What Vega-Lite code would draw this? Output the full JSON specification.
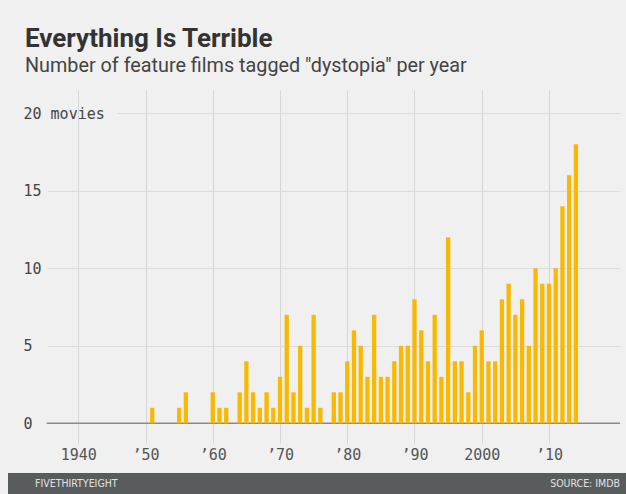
{
  "$schema": "https://vega.github.io/schema/vega-lite/v6.json",
  "background": "#f0f0f0",
  "padding": {"left": 8, "top": 26, "right": 0, "bottom": 0},
  "title": {
    "text": "Everything Is Terrible",
    "subtitle": "Number of feature films tagged \"dystopia\" per year",
    "anchor": "start",
    "dx": 17,
    "offset": 14,
    "font": "Roboto",
    "fontSize": 26,
    "fontWeight": "bold",
    "color": "#333333",
    "subtitleFont": "Roboto",
    "subtitleFontSize": 19.8,
    "subtitleColor": "#444444",
    "subtitlePadding": 4
  },
  "bounds": "flush",
  "spacing": 30,
  "config": {"view": {"stroke": null}},
  "vconcat": [
    {
      "width": 612,
      "height": 353,
      "layer": [
        {
          "data": {"values": [{}]},
          "mark": {"type": "rule", "color": "#8a8a8a", "strokeWidth": 1.5},
          "encoding": {
            "y": {"datum": 0, "type": "quantitative"},
            "x": {"datum": 1935.3, "type": "quantitative"},
            "x2": {"datum": 2020.56}
          }
        },
        {
          "data": {
            "values": [
              {"year": 1940, "films": 0}, {"year": 1941, "films": 0}, {"year": 1942, "films": 0},
              {"year": 1943, "films": 0}, {"year": 1944, "films": 0}, {"year": 1945, "films": 0},
              {"year": 1946, "films": 0}, {"year": 1947, "films": 0}, {"year": 1948, "films": 0},
              {"year": 1949, "films": 0}, {"year": 1950, "films": 0}, {"year": 1951, "films": 1},
              {"year": 1952, "films": 0}, {"year": 1953, "films": 0}, {"year": 1954, "films": 0},
              {"year": 1955, "films": 1}, {"year": 1956, "films": 2}, {"year": 1957, "films": 0},
              {"year": 1958, "films": 0}, {"year": 1959, "films": 0}, {"year": 1960, "films": 2},
              {"year": 1961, "films": 1}, {"year": 1962, "films": 1}, {"year": 1963, "films": 0},
              {"year": 1964, "films": 2}, {"year": 1965, "films": 4}, {"year": 1966, "films": 2},
              {"year": 1967, "films": 1}, {"year": 1968, "films": 2}, {"year": 1969, "films": 1},
              {"year": 1970, "films": 3}, {"year": 1971, "films": 7}, {"year": 1972, "films": 2},
              {"year": 1973, "films": 5}, {"year": 1974, "films": 1}, {"year": 1975, "films": 7},
              {"year": 1976, "films": 1}, {"year": 1977, "films": 0}, {"year": 1978, "films": 2},
              {"year": 1979, "films": 2}, {"year": 1980, "films": 4}, {"year": 1981, "films": 6},
              {"year": 1982, "films": 5}, {"year": 1983, "films": 3}, {"year": 1984, "films": 7},
              {"year": 1985, "films": 3}, {"year": 1986, "films": 3}, {"year": 1987, "films": 4},
              {"year": 1988, "films": 5}, {"year": 1989, "films": 5}, {"year": 1990, "films": 8},
              {"year": 1991, "films": 6}, {"year": 1992, "films": 4}, {"year": 1993, "films": 7},
              {"year": 1994, "films": 3}, {"year": 1995, "films": 12}, {"year": 1996, "films": 4},
              {"year": 1997, "films": 4}, {"year": 1998, "films": 2}, {"year": 1999, "films": 5},
              {"year": 2000, "films": 6}, {"year": 2001, "films": 4}, {"year": 2002, "films": 4},
              {"year": 2003, "films": 8}, {"year": 2004, "films": 9}, {"year": 2005, "films": 7},
              {"year": 2006, "films": 8}, {"year": 2007, "films": 5}, {"year": 2008, "films": 10},
              {"year": 2009, "films": 9}, {"year": 2010, "films": 9}, {"year": 2011, "films": 10},
              {"year": 2012, "films": 14}, {"year": 2013, "films": 16}, {"year": 2014, "films": 18}
            ]
          },
          "mark": {"type": "bar", "width": 4.3, "color": "#f9b900"},
          "encoding": {
            "x": {
              "field": "year",
              "type": "quantitative",
              "scale": {"domain": [1929.55, 2020.56], "nice": false, "zero": false, "padding": 0},
              "axis": {
                "title": null,
                "values": [1940, 1950, 1960, 1970, 1980, 1990, 2000, 2010],
                "labelExpr": "datum.value == 1940 || datum.value == 2000 ? '' + datum.value : '\u2019' + substring(toString(datum.value), 2)",
                "grid": true,
                "gridColor": "#d6d6d6",
                "gridWidth": 1,
                "domain": false,
                "ticks": false,
                "tickSize": 0,
                "labelPadding": 4,
                "labelFont": "DejaVu Sans Mono",
                "labelFontSize": 15,
                "labelColor": "#555555",
                "labelFlush": false,
                "labelOverlap": false
              }
            },
            "y": {
              "field": "films",
              "type": "quantitative",
              "scale": {"domain": [-1.27, 21.5], "nice": false, "zero": false, "padding": 0},
              "axis": {
                "title": null,
                "values": [0, 5, 10, 15, 20],
                "labelExpr": "datum.value == 20 ? '20 movies' : (datum.value < 10 ? '\u00a0' + datum.label : datum.label)",
                "grid": true,
                "gridColor": "#dcdcdc",
                "gridWidth": 1,
                "gridDash": {"condition": {"test": "datum.value === 20", "value": [0, 109, 1000]}, "value": [0, 39, 1000]},
                "domain": false,
                "ticks": false,
                "tickSize": 0,
                "labelAlign": "left",
                "labelPadding": -15,
                "labelFont": "DejaVu Sans Mono",
                "labelFontSize": 15,
                "labelColor": "#444444",
                "labelFlush": false,
                "labelOverlap": false
              }
            },
            "y2": {"datum": 0}
          }
        }
      ]
    },
    {
      "width": 618,
      "height": 21,
      "view": {"fill": "#585c5c", "stroke": null},
      "data": {"values": [{"brand": "FIVETHIRTYEIGHT", "source": "SOURCE: IMDB"}]},
      "layer": [
        {
          "mark": {"type": "text", "align": "left", "dx": 27, "font": "DejaVu Sans Condensed, Liberation Sans Narrow, Roboto", "fontSize": 10.5, "color": "#e2e2e2"},
          "encoding": {
            "x": {"datum": 0, "type": "quantitative", "scale": {"domain": [0, 1]}, "axis": null},
            "text": {"field": "brand"}
          }
        },
        {
          "mark": {"type": "text", "align": "right", "dx": -6, "font": "DejaVu Sans Condensed, Liberation Sans Narrow, Roboto", "fontSize": 10.5, "color": "#e2e2e2"},
          "encoding": {
            "x": {"datum": 1, "type": "quantitative", "scale": {"domain": [0, 1]}, "axis": null},
            "text": {"field": "source"}
          }
        }
      ]
    }
  ]
}
